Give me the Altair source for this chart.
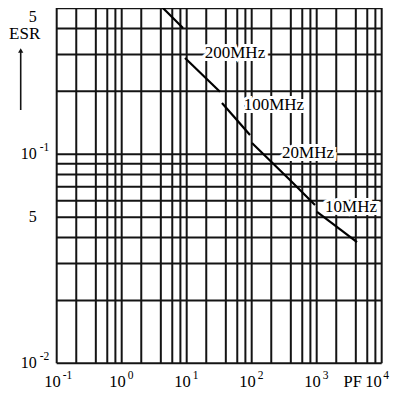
import altair as alt
import pandas as pd

# grid values (log-log paper)
x_grid = [0.1, 0.2, 0.4, 0.6, 0.8, 1, 2, 4, 6, 8, 10, 20, 40, 60, 80,
          100, 200, 400, 600, 800, 1000, 2000, 4000, 6000, 8000, 10000]
y_grid = [0.01, 0.02, 0.03, 0.04, 0.05, 0.06, 0.07, 0.08, 0.09,
          0.1, 0.2, 0.3, 0.4, 0.5]

# ESR curve (segments)
seg_id = [1, 1, 2, 2, 3, 3, 4, 4, 4, 5, 5]
pf = [3.25, 8.77, 9.42, 32.5, 34.9, 94.2, 101, 388, 942, 1012, 4170]
esr = [0.547, 0.402, 0.289, 0.199, 0.176, 0.1237, 0.1133, 0.0753, 0.0572, 0.053, 0.038]

# frequency annotations
freq_labels = ["200MHz", "100MHz", "20MHz", "10MHz"]
freq_pf = [55.3, 220, 735, 3375]
freq_esr = [0.305, 0.172, 0.1015, 0.056]

# tick labels
x_tick_vals = [0.1, 1, 10, 100, 1000, 10000]
x_tick_exp = ["-1", "0", "1", "2", "3", "4"]
y_tick_vals = [0.5, 0.1, 0.05, 0.01]
y_tick_base = ["5", "10", "5", "10"]
y_tick_exp = ["", "-1", "", "-2"]

FONT = "Liberation Serif, Times New Roman, DejaVu Serif, serif"
INK = "#141414"

xs = alt.Scale(type="log", domain=[0.1, 10000], nice=False)
ys = alt.Scale(type="log", domain=[0.01, 0.501], nice=False)

curve = pd.DataFrame({"seg": seg_id, "x": pf, "y": esr})
xg = pd.DataFrame({"x": x_grid})
yg = pd.DataFrame({"y": y_grid})
fl = pd.DataFrame({"t": freq_labels, "x": freq_pf, "y": freq_esr})
xt = pd.DataFrame({"x": x_tick_vals, "e": x_tick_exp})
yt = pd.DataFrame({"y": y_tick_vals, "b": y_tick_base, "e": y_tick_exp})

X = alt.X("x:Q", scale=xs, axis=None)
Y = alt.Y("y:Q", scale=ys, axis=None)

vgrid = alt.Chart(xg).mark_rule(color=INK, strokeWidth=2).encode(x=X)
hgrid = alt.Chart(yg).mark_rule(color=INK, strokeWidth=2).encode(y=Y)

line = alt.Chart(curve).mark_line(color="black", strokeWidth=2.2, clip=True).encode(
    x=X, y=Y, detail="seg:N")

halo = alt.Chart(fl).mark_text(font=FONT, fontSize=17, color="white", stroke="white",
                               strokeWidth=6, align="center", baseline="middle").encode(
    x=X, y=Y, text="t:N")
ftext = alt.Chart(fl).mark_text(font=FONT, fontSize=17, color="black",
                                align="center", baseline="middle").encode(
    x=X, y=Y, text="t:N")

xbase = alt.Chart(xt).mark_text(font=FONT, fontSize=16.5, color="black", align="right",
                                baseline="middle", dx=4).encode(
    x=X, y=alt.value(374.5), text=alt.value("10")).transform_filter(alt.datum.x < 5000)
xexp = alt.Chart(xt).mark_text(font=FONT, fontSize=11.5, color="black", align="left",
                               baseline="middle", dx=6).encode(
    x=X, y=alt.value(368), text="e:N").transform_filter(alt.datum.x < 5000)
xbase_end = alt.Chart(xt).mark_text(font=FONT, fontSize=16.5, color="black", align="right",
                                    baseline="middle", dx=0).encode(
    x=X, y=alt.value(374.5), text=alt.value("10")).transform_filter(alt.datum.x > 5000)
xexp_end = alt.Chart(xt).mark_text(font=FONT, fontSize=11.5, color="black", align="left",
                                   baseline="middle", dx=1.5).encode(
    x=X, y=alt.value(368), text="e:N").transform_filter(alt.datum.x > 5000)
pf_unit = alt.Chart(xt).mark_text(font=FONT, fontSize=16.5, color="black", align="center",
                                  baseline="middle").encode(
    x=alt.value(296), y=alt.value(374.5), text=alt.value("PF")).transform_filter(
    alt.datum.x > 5000)

ybase = alt.Chart(yt).mark_text(font=FONT, fontSize=16, color="black", align="right",
                                baseline="middle").encode(
    x=alt.value(-20), y=Y, text="b:N").transform_filter(alt.datum.y < 0.4)
ytop = alt.Chart(yt).mark_text(font=FONT, fontSize=16, color="black", align="right",
                               baseline="top", dy=1).encode(
    x=alt.value(-20), y=Y, text="b:N").transform_filter(alt.datum.y > 0.4)
yexp = alt.Chart(yt).mark_text(font=FONT, fontSize=11.5, color="black", align="left",
                               baseline="middle", dy=-6).encode(
    x=alt.value(-17), y=Y, text="e:N").transform_filter(alt.datum.e != "")

esr_title = alt.Chart(yt).mark_text(font=FONT, fontSize=17, color="black", align="center",
                                    baseline="middle").encode(
    x=alt.value(-32), y=alt.value(26), text=alt.value("ESR")).transform_filter(
    alt.datum.y == 0.1)
arrow_shaft = alt.Chart(yt).mark_rule(color=INK, strokeWidth=1.6).encode(
    x=alt.value(-36), y=alt.value(102), y2=alt.value(44)).transform_filter(
    alt.datum.y == 0.1)
arrow_head = alt.Chart(yt).mark_point(shape="triangle-up", filled=True, color=INK,
                                      size=28, opacity=1).encode(
    x=alt.value(-36), y=alt.value(42.5)).transform_filter(alt.datum.y == 0.1)

chart = alt.layer(
    vgrid, hgrid, line, halo, ftext, xbase, xexp, xbase_end, xexp_end, pf_unit,
    ybase, ytop, yexp, esr_title, arrow_shaft, arrow_head
).properties(
    width=325, height=355.3,
    padding={"left": 48.7, "top": 0, "right": 10, "bottom": 28.7},
    autosize="none", background="white"
).configure_view(stroke=None)

chart.save("out.html", embed_options={"renderer": "svg", "actions": False})
